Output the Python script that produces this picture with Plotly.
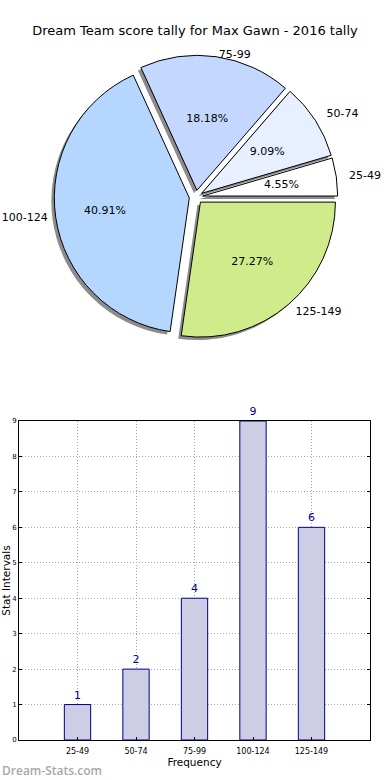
import plotly.graph_objects as go

# ---- data ----
categories = ["25-49", "50-74", "75-99", "100-124", "125-149"]
counts = [1, 2, 4, 9, 6]
pie_colors = ["#ffffff", "#e8f0ff", "#c4d8ff", "#b4d6ff", "#d0ec8a"]
title_text = "Dream Team score tally for Max Gawn - 2016 tally"
y_ticks = list(range(0, 10))

W, H = 390, 780
FONT = "DejaVu Sans"

# pie geometry (pixels -> paper fractions)
cx, cy, r, pull = 196, 197, 135, 0.05
explode_px = r * pull
label_pulls = [0.12, 0.12, 0.02, 0.085, 0.09]
# radius of helper pies whose inside text sits where matplotlib puts pct labels
pct_radius = [91, 100, 112, 167, 139]


def dom(R, p, dx=0.0, dy=0.0):
    half = R * (1 + p)
    return dict(x=[(cx - half) / W + dx, (cx + half) / W + dx],
                y=[1 - (cy + half) / H + dy, 1 - (cy - half) / H + dy])


rot = 90 - 360.0 * counts[0] / sum(counts)
total = sum(counts)
pct_text = [f"{100.0 * c / total:.2f}%" for c in counts]

fig = go.Figure()

common = dict(values=counts, labels=categories, sort=False,
              direction="counterclockwise", rotation=rot, showlegend=False)
clear = ["rgba(0,0,0,0)"] * len(counts)

# shadow
fig.add_trace(go.Pie(
    **common, pull=[pull] * len(counts),
    marker=dict(colors=["#8c8c8c"] * len(counts), line=dict(width=0)),
    textinfo="none", hoverinfo="skip",
    domain=dom(r, pull, -3 / W, -3 / H),
))

# main pie
fig.add_trace(go.Pie(
    **common, pull=[pull] * len(counts),
    marker=dict(colors=pie_colors, line=dict(color="#000000", width=1)),
    textinfo="none",
    domain=dom(r, pull),
))

# percentage labels (one transparent helper pie per slice)
for i, R in enumerate(pct_radius):
    p = explode_px / R
    fig.add_trace(go.Pie(
        **common, pull=[p] * len(counts),
        marker=dict(colors=clear, line=dict(width=0)),
        text=[pct_text[j] if j == i else "" for j in range(len(counts))],
        textinfo="text", textposition="inside",
        insidetextorientation="horizontal",
        insidetextfont=dict(family=FONT, size=11, color="#000000"),
        hoverinfo="skip",
        domain=dom(R, p),
    ))

# outside category labels
fig.add_trace(go.Pie(
    **common, pull=label_pulls,
    marker=dict(colors=clear, line=dict(width=0)),
    textinfo="label", textposition="outside",
    outsidetextfont=dict(family=FONT, size=11, color="#000000"),
    hoverinfo="skip",
    domain=dom(r, max(label_pulls)),
))

# bar chart
fig.add_trace(go.Bar(
    x=categories, y=counts, width=0.45,
    marker=dict(color="#cdcde5", line=dict(color="#000080", width=1)),
    text=[str(c) for c in counts], textposition="outside",
    textfont=dict(family=FONT, size=11, color="#00008b"),
    cliponaxis=False, showlegend=False,
))

grid = dict(showgrid=True, gridcolor="#a8a8a8", griddash="1px,2px", gridwidth=1)

fig.update_layout(
    width=W, height=H,
    margin=dict(l=0, r=0, t=0, b=0, autoexpand=False),
    paper_bgcolor="white", plot_bgcolor="white",
    font=dict(family=FONT, color="#000000"),
    uniformtext=dict(minsize=11, mode="show"),
    title=dict(text=title_text, x=0.5, xanchor="center", y=1 - 30 / H,
               yanchor="middle", font=dict(family=FONT, size=13, color="#000000")),
    xaxis=dict(
        domain=[19 / W, 370 / W], range=[-1, 5], type="category",
        automargin=False,
        showline=True, linecolor="#000000", linewidth=1, mirror=True,
        **grid,
        ticks="inside", ticklen=3, tickcolor="#000000",
        ticklabelstandoff=3,
        tickfont=dict(family=FONT, size=8, color="#000000"),
        title=dict(text="Frequency", font=dict(family=FONT, size=10.5), standoff=1),
        zeroline=False,
    ),
    yaxis=dict(
        domain=[1 - 740 / H, 1 - 421 / H], range=[0, 9],
        automargin=False,
        tickvals=y_ticks,
        showline=True, linecolor="#000000", linewidth=1, mirror="ticks",
        **grid,
        ticks="inside", ticklen=3, tickcolor="#000000",
        tickfont=dict(family=FONT, size=7, color="#000000"),
        title=dict(text="Stat Intervals", font=dict(family=FONT, size=10.5), standoff=0),
        zeroline=False,
    ),
    annotations=[dict(
        text="Dream-Stats.com", x=0, y=1 - 770 / H, xref="paper", yref="paper",
        xanchor="left", yanchor="middle", showarrow=False,
        font=dict(family="Open Sans", size=12, color="#a8a8a8", weight=600),
    )],
)

fig.write_html("out.html", config={"displayModeBar": False},
               post_script="document.body.style.margin='0';")
